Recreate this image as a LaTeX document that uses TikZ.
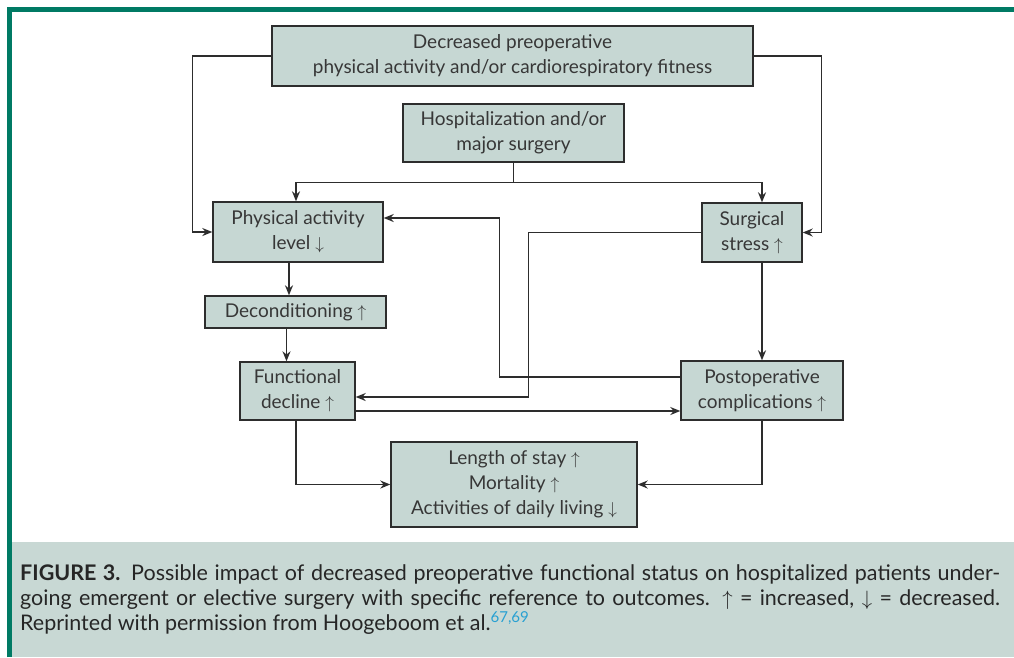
\documentclass[tikz,border=0pt]{standalone}
\usepackage{fontspec}
\setmainfont{Lato}
\usetikzlibrary{arrows.meta}
\definecolor{frameGreen}{RGB}{0,122,100}
\definecolor{boxfill}{RGB}{198,215,211}
\definecolor{capfill}{RGB}{200,216,212}
\definecolor{linec}{RGB}{45,45,45}
\definecolor{textc}{RGB}{55,55,55}
\definecolor{refblue}{RGB}{40,160,210}
\begin{document}
\begin{tikzpicture}[x=1pt,y=-1pt,
  box/.style={draw=linec, line width=1.4pt, fill=boxfill, align=center, inner sep=0pt,
    font=\fontsize{19}{25}\selectfont, text=textc},
  arr/.style={draw=linec, line width=1.4pt, -{Stealth[length=10pt,width=8pt]}}]
\useasboundingbox (0,0) rectangle (1014,657);
\fill[white] (0,0) rectangle (1014,657);
\fill[capfill] (10,542) rectangle (1014,657);
\draw[frameGreen, line width=4.4pt] (9.5,657) -- (9.5,9.5) -- (1014,9.5);

\node[box, minimum width=481pt, minimum height=60pt] (top) at (512.5,56) {Decreased preoperative\\physical activity and/or cardiorespiratory fitness};
\node[box, minimum width=221pt, minimum height=58pt] (hosp) at (513.5,133) {Hospitalization and/or\\major surgery};
\node[box, minimum width=170pt, minimum height=60pt] (pa) at (298,232) {Physical activity\\level $\downarrow$};
\node[box, minimum width=100pt, minimum height=59pt] (ss) at (752,232.5) {Surgical\\stress $\uparrow$};
\node[box, minimum width=181pt, minimum height=32pt] (dec) at (295.5,312) {Deconditioning $\uparrow$};
\node[box, minimum width=115pt, minimum height=58pt] (fd) at (297.5,391) {Functional\\decline $\uparrow$};
\node[box, minimum width=162pt, minimum height=59pt] (po) at (762,390.5) {Postoperative\\complications $\uparrow$};
\node[box, minimum width=246pt, minimum height=85pt] (out) at (514,484.5) {Length of stay $\uparrow$\\Mortality $\uparrow$\\Activities of daily living $\downarrow$};

% top box to sides
\draw[arr] (top.west) -- ++(-79,0) |- (pa.west);
\draw[arr] (top.east) -- ++(68,0) |- (ss.east);
% hospitalization branches
\draw[arr] (hosp.south) -- ++(0,20) -| ([xshift=-2pt]pa.north);
\draw[arr] (hosp.south) -- ++(0,20) -| (ss.north -| po.north);
% vertical chains
\draw[arr] ([xshift=-9pt]pa.south) -- ([xshift=-9pt]pa.south |- dec.north);
\draw[arr] ([xshift=-9pt]dec.south) -- ([xshift=-9pt]dec.south |- fd.north);
\draw[arr] (ss.south -| po.north) -- (po.north);
% cross links
\draw[arr] ([yshift=13.5pt]po.west) -- ++(-181,0) |- ([yshift=14pt]pa.east);
\draw[arr] (ss.west) -- ++(-173,0) |- ([yshift=-6pt]fd.east);
\draw[arr] ([yshift=-20pt]fd.east) -- ([yshift=-20pt]fd.east -| po.west);
% to outcomes
\draw[arr] ([xshift=-1.5pt]fd.south) |- (out.west);
\draw[arr] (po.south) |- (out.east);

\node[anchor=north west, text width=980pt, align=justify, inner sep=0pt,
  font=\fontsize{21.5}{25}\selectfont, text=black!85] (cap) at (20,564)
  {\textbf{FIGURE 3.} Possible impact of decreased preoperative functional status on hospitalized patients under-\linebreak
  going emergent or elective surgery with specific reference to outcomes. $\uparrow$ = increased, $\downarrow$ = decreased.\linebreak
  Reprinted with permission from Hoogeboom et al.\textsuperscript{\color{refblue}67,69}};
\end{tikzpicture}
\end{document}
